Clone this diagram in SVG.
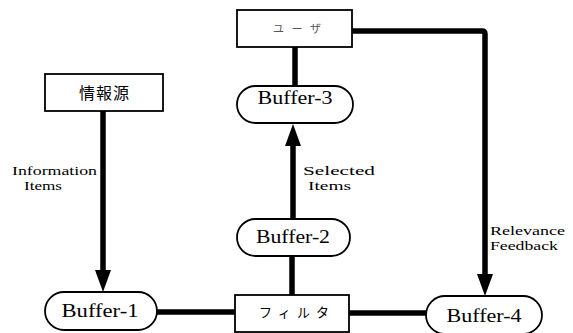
<svg xmlns="http://www.w3.org/2000/svg" width="573" height="333" viewBox="0 0 573 333">
  <style>
    .box { fill: #fff; stroke: #000; stroke-width: 1.8; }
    .wire { fill: none; stroke: #000; stroke-width: 5.5; }
    .buf { font-family: "Liberation Serif", "Times New Roman", serif; font-size: 18px; fill: #000; text-anchor: middle; }
    .lbl { font-family: "Liberation Serif", "Times New Roman", serif; font-size: 13px; fill: #000; }
    .jp { font-family: "Liberation Serif", "Noto Sans CJK JP", serif; fill: #000; text-anchor: middle; }
  </style>
  <defs>
    <marker id="head" viewBox="0 0 22 16" refX="12" refY="8" markerWidth="22" markerHeight="16" markerUnits="userSpaceOnUse" orient="auto">
      <path d="M0,0 L22,8 L0,16 z" fill="#000"/>
    </marker>
  </defs>

  <!-- connectors -->
  <g id="connectors">
    <line class="wire" x1="103" y1="111" x2="103" y2="282" marker-end="url(#head)"/>
    <line class="wire" x1="157" y1="312" x2="236" y2="312"/>
    <line class="wire" x1="292" y1="256" x2="292" y2="296"/>
    <line class="wire" x1="293" y1="219" x2="293" y2="134" marker-end="url(#head)"/>
    <line class="wire" x1="295" y1="47" x2="295" y2="87"/>
    <path class="wire" d="M352,31 H482 Q485,31 485,34 V286" marker-end="url(#head)"/>
    <line class="wire" x1="348" y1="313" x2="427" y2="313"/>
  </g>

  <!-- connector labels -->
  <g id="labels">
    <text class="lbl" x="12" y="175" textLength="85" lengthAdjust="spacingAndGlyphs">Information</text>
    <text class="lbl" x="24" y="190" textLength="38" lengthAdjust="spacingAndGlyphs">Items</text>
    <text class="lbl" x="303" y="175" textLength="72" lengthAdjust="spacingAndGlyphs">Selected</text>
    <text class="lbl" x="308" y="190" textLength="43" lengthAdjust="spacingAndGlyphs">Items</text>
    <text class="lbl" x="490" y="235" textLength="75" lengthAdjust="spacingAndGlyphs">Relevance</text>
    <text class="lbl" x="490" y="250" textLength="68" lengthAdjust="spacingAndGlyphs">Feedback</text>
  </g>

  <!-- nodes -->
  <g id="source">
    <rect class="box" x="45" y="74" width="118" height="37"/>
    <text class="jp" x="104" y="99" font-size="16" textLength="50" lengthAdjust="spacing">情報源</text>
  </g>
  <g id="user">
    <rect class="box" x="237" y="10" width="115" height="37"/>
    <text class="jp" x="297" y="33" font-size="11" textLength="48" lengthAdjust="spacing" style="fill:#555">ユーザ</text>
  </g>
  <g id="buffer3">
    <rect class="box" x="237" y="86" width="116" height="37" rx="18.5"/>
    <text class="buf" x="295" y="104" textLength="75" lengthAdjust="spacingAndGlyphs">Buffer-3</text>
  </g>
  <g id="buffer2">
    <rect class="box" x="237" y="219" width="113" height="37" rx="18.5"/>
    <text class="buf" x="293" y="243" textLength="74" lengthAdjust="spacingAndGlyphs">Buffer-2</text>
  </g>
  <g id="buffer1">
    <rect class="box" x="45" y="292" width="112" height="38" rx="19"/>
    <text class="buf" x="100" y="317" textLength="77" lengthAdjust="spacingAndGlyphs">Buffer-1</text>
  </g>
  <g id="filter">
    <rect class="box" x="235" y="295" width="114" height="37"/>
    <text class="jp" x="294" y="317" font-size="13" textLength="70" lengthAdjust="spacing">フィルタ</text>
  </g>
  <g id="buffer4">
    <rect class="box" x="426" y="296" width="116" height="38" rx="19"/>
    <text class="buf" x="484" y="322" textLength="75" lengthAdjust="spacingAndGlyphs">Buffer-4</text>
  </g>
</svg>
